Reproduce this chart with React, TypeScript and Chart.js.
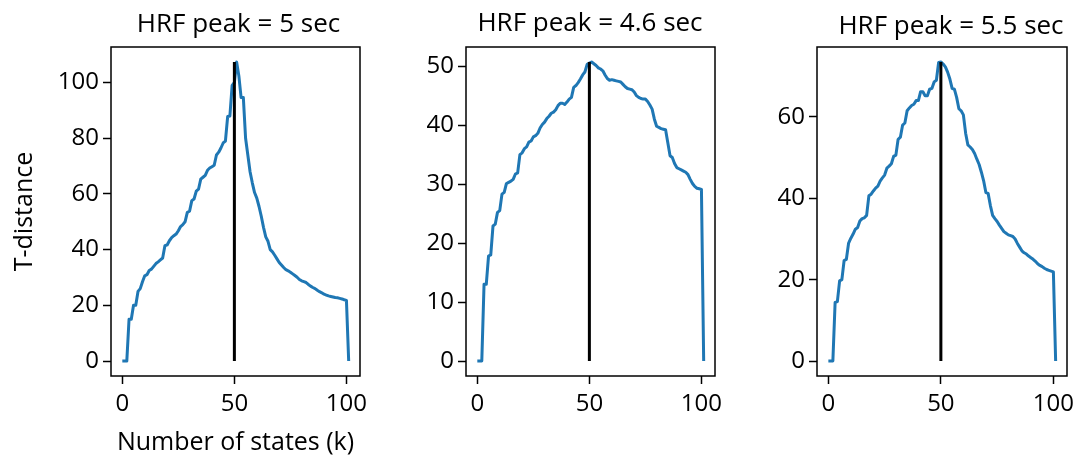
import React, { useEffect, useRef } from 'react';
import { Chart, registerables } from 'chart.js';
Chart.register(...registerables);

const K = [
  0, 1, 2, 3, 4, 5, 6, 7, 8, 9, 10, 11, 12, 13, 14, 15, 16, 17, 18, 19,
  20, 21, 22, 23, 24, 25, 26, 27, 28, 29, 30, 31, 32, 33, 34, 35, 36, 37, 38, 39,
  40, 41, 42, 43, 44, 45, 46, 47, 48, 49, 50, 51, 52, 53, 54, 55, 56, 57, 58, 59,
  60, 61, 62, 63, 64, 65, 66, 67, 68, 69, 70, 71, 72, 73, 74, 75, 76, 77, 78, 79,
  80, 81, 82, 83, 84, 85, 86, 87, 88, 89, 90, 91, 92, 93, 94, 95, 96, 97, 98, 99,
  100, 101,
];

const TD_PEAK_5 = [
  0, 0, 0, 15, 15, 20, 20, 25, 26, 28.5,
  30.6, 31, 32.5, 33, 34, 35, 35.6, 36.3, 37, 41.4,
  41.7, 43.2, 44.3, 45, 45.6, 46.8, 48.3, 49, 50, 53.4,
  53.8, 57.6, 58.2, 61, 61.7, 65.3, 66, 66.7, 68.5, 69.3,
  69.8, 70.3, 74, 75, 76.5, 78.3, 79, 87.8, 88, 99,
  100, 107.4, 102.4, 94.6, 94.6, 80, 74, 68, 64, 60.5,
  58.5, 55.5, 52, 48, 44.6, 43, 40, 39.2, 38, 36.7,
  35.4, 34.5, 33.6, 32.8, 32.4, 31.9, 31.3, 30.7, 30.1, 29.3,
  28.8, 28.5, 28.2, 27.5, 26.9, 26.4, 26, 25.4, 24.9, 24.5,
  24, 23.7, 23.4, 23.2, 23, 22.8, 22.7, 22.5, 22.3, 22,
  21.8, 0,
];

const TD_PEAK_4_6 = [
  0, 0, 0, 13, 13, 17.8, 18, 22.9, 23.2, 25.2,
  25.5, 28.3, 28.6, 30.1, 30.3, 30.5, 30.8, 31.7, 31.9, 35,
  35.3, 36, 36.3, 37.1, 37.3, 38, 38.2, 38.6, 39.5, 40.1,
  40.5, 41.1, 41.5, 42, 42.2, 42.6, 43.3, 43.7, 43.7, 43.5,
  43.9, 44.4, 44.7, 46.4, 46.7, 47.2, 47.8, 48.5, 49, 50.3,
  50.5, 50.7, 50.4, 50.1, 49.7, 49.5, 49.2, 48.5, 47.9, 47.6,
  47.7, 47.6, 47.5, 47.4, 47.3, 46.9, 46.5, 46.2, 46.1, 46,
  45.6, 45, 44.7, 44.5, 44.4, 44.4, 44, 43.4, 42.7, 41,
  39.8, 39.6, 39.4, 39.3, 39.2, 37, 34.8, 34.5, 33.5, 32.8,
  32.6, 32.4, 32.2, 32, 31.6, 30.8, 30.1, 29.6, 29.3, 29.2,
  29.1, 0,
];

const TD_PEAK_5_5 = [
  0, 0, 0, 14.4, 14.6, 19.7, 20, 24.7, 25, 29,
  30.2, 31.2, 32.4, 32.8, 34.4, 35, 35.2, 35.8, 40.6, 41,
  41.8, 42.5, 43, 44.2, 45, 45.7, 47.4, 47.9, 48.5, 50.3,
  50.6, 54.5, 55, 58, 58.5, 61.5, 62.2, 62.8, 63.1, 64,
  64, 66.2, 66.2, 65.2, 65.2, 66.8, 67, 68.6, 69, 73.4,
  73.5, 73, 72.3, 71, 69.3, 67, 66.8, 64.8, 62, 61.5,
  60.5, 56, 53.1, 52.6, 52, 51, 49.6, 48.3, 46.4, 44.3,
  41.4, 41.2, 38.2, 35.8, 35, 34.3, 33.4, 32.6, 31.8, 31.4,
  31, 30.8, 30.6, 30, 28.9, 28, 27.1, 26.6, 26.3, 25.8,
  25.4, 25, 24.5, 23.9, 23.5, 23.2, 22.8, 22.5, 22.3, 22.1,
  21.9, 0,
];

const PANEL_TITLES = ['HRF peak = 5 sec', 'HRF peak = 4.6 sec', 'HRF peak = 5.5 sec'];
const X_TICKS = [0, 50, 100];
const Y_TICKS_1 = [0, 20, 40, 60, 80, 100];
const Y_TICKS_2 = [0, 10, 20, 30, 40, 50];
const Y_TICKS_3 = [0, 20, 40, 60];
const MARK_K = 50;
const X_TITLE = 'Number of states (k)';
const Y_TITLE = 'T-distance';

const FONT = '"Open Sans", "Noto Sans", sans-serif';
const BLUE = '#1f77b4';
const H = 460;
const AREA_TOP = 47;
const AREA_BOTTOM = 376;

const framePlugin = {
  id: 'frame',
  afterDatasetsDraw(chart: any, _args: any, opts: any) {
    const { ctx, chartArea } = chart;
    const { left, top, right, bottom } = chartArea;
    ctx.save();
    ctx.strokeStyle = '#000';
    ctx.lineWidth = 1.5;
    ctx.strokeRect(left, top, right - left, bottom - top);
    ctx.fillStyle = '#000';
    ctx.font = `26px ${FONT}`;
    ctx.textAlign = 'center';
    ctx.textBaseline = 'alphabetic';
    ctx.fillText(opts.text, (left + right) / 2 + opts.dx, opts.baseline);
    ctx.restore();
  },
};

type PanelProps = {
  left: number;
  width: number;
  yWidth: number;
  padRight: number;
  values: number[];
  yTicks: number[];
  title: string;
  titleDx: number;
  titleBaseline: number;
  showYTitle: boolean;
  showXTitle: boolean;
};

function Panel(p: PanelProps) {
  const ref = useRef<HTMLCanvasElement>(null);
  useEffect(() => {
    const ymax = Math.max(...p.values);
    const gridOpts = {
      display: true,
      drawOnChartArea: false,
      drawTicks: true,
      tickLength: 8,
      tickColor: '#000',
      tickWidth: 1.5,
      color: '#000',
    };
    const chart = new Chart(ref.current as HTMLCanvasElement, {
      type: 'line',
      data: {
        datasets: [
          {
            data: [
              { x: MARK_K, y: 0 },
              { x: MARK_K, y: ymax },
            ],
            borderColor: '#000',
            borderWidth: 3,
            pointRadius: 0,
            borderCapStyle: 'butt',
          },
          {
            data: K.map((k, i) => ({ x: k, y: p.values[i] })),
            borderColor: BLUE,
            borderWidth: 3,
            pointRadius: 0,
            tension: 0,
            borderJoinStyle: 'round',
          },
        ],
      },
      options: {
        animation: false,
        responsive: false,
        layout: { padding: { left: 0, right: p.padRight, top: AREA_TOP, bottom: 0 } },
        plugins: {
          legend: { display: false },
          tooltip: { enabled: false },
          title: { display: false },
          frame: { text: p.title, dx: p.titleDx, baseline: p.titleBaseline },
        } as any,
        scales: {
          x: {
            type: 'linear',
            min: -5.05,
            max: 106.05,
            afterBuildTicks: (s: any) => {
              s.ticks = X_TICKS.map((v) => ({ value: v }));
            },
            afterFit: (s: any) => {
              s.height = H - AREA_BOTTOM;
              s.paddingLeft = 0;
              s.paddingRight = 0;
            },
            grid: gridOpts,
            border: { display: false },
            ticks: {
              font: { family: FONT, size: 24 },
              color: '#000',
              padding: 6,
              maxRotation: 0,
              autoSkip: false,
            },
            title: {
              display: p.showXTitle,
              text: X_TITLE,
              color: '#000',
              font: { family: FONT, size: 25 },
              padding: { top: 0, bottom: 2 },
            },
          },
          y: {
            type: 'linear',
            min: -0.05 * ymax,
            max: 1.05 * ymax,
            afterBuildTicks: (s: any) => {
              s.ticks = p.yTicks.map((v) => ({ value: v }));
            },
            afterFit: (s: any) => {
              s.width = p.yWidth;
              s.paddingTop = 0;
              s.paddingBottom = 0;
            },
            grid: gridOpts,
            border: { display: false },
            ticks: {
              font: { family: FONT, size: 24 },
              color: '#000',
              padding: 4,
              autoSkip: false,
            },
            title: {
              display: p.showYTitle,
              text: Y_TITLE,
              color: '#000',
              font: { family: FONT, size: 25 },
              padding: { top: 10, bottom: 0 },
            },
          },
        },
      },
      plugins: [framePlugin],
    } as any);
    return () => chart.destroy();
  }, []);
  return (
    <canvas
      ref={ref}
      width={p.width}
      height={H}
      style={{ position: 'absolute', left: p.left, top: 0, width: p.width, height: H }}
    />
  );
}

export default function App() {
  return (
    <div
      style={{
        position: 'absolute',
        left: 0,
        top: 0,
        width: 1091,
        height: H,
        background: '#fff',
        overflow: 'hidden',
      }}
    >
      <Panel
        left={0}
        width={380}
        yWidth={111}
        padRight={20}
        values={TD_PEAK_5}
        yTicks={Y_TICKS_1}
        title={PANEL_TITLES[0]}
        titleDx={3}
        titleBaseline={31.5}
        showYTitle={true}
        showXTitle={true}
      />
      <Panel
        left={380}
        width={355}
        yWidth={86}
        padRight={20}
        values={TD_PEAK_4_6}
        yTicks={Y_TICKS_2}
        title={PANEL_TITLES[1]}
        titleDx={-0.5}
        titleBaseline={31}
        showYTitle={false}
        showXTitle={false}
      />
      <Panel
        left={735}
        width={356}
        yWidth={82}
        padRight={24}
        values={TD_PEAK_5_5}
        yTicks={Y_TICKS_3}
        title={PANEL_TITLES[2]}
        titleDx={9}
        titleBaseline={34}
        showYTitle={false}
        showXTitle={false}
      />
    </div>
  );
}
